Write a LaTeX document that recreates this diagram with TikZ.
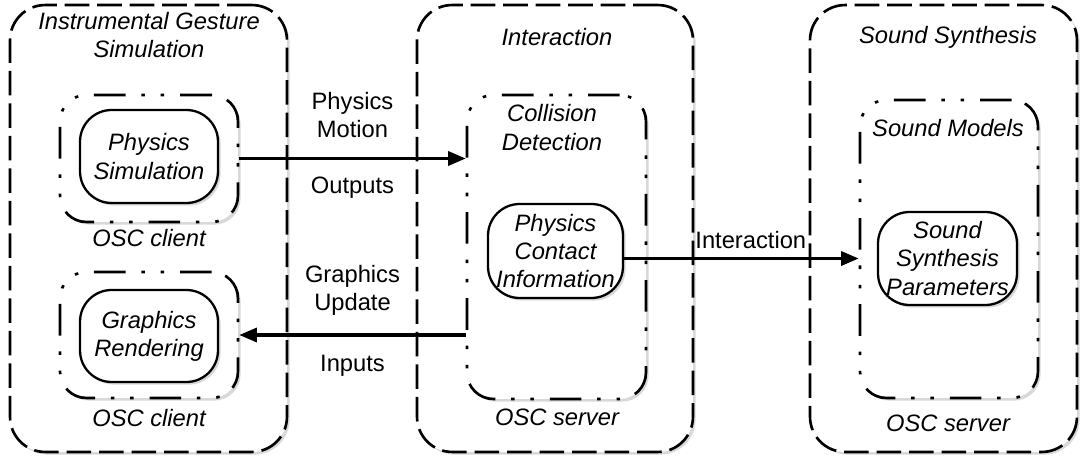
\documentclass[tikz,border=0pt]{standalone}
\usepackage{fontspec}
\setmainfont{Liberation Sans}
\usetikzlibrary{arrows.meta,shadows}
\tikzset{
  sys/.style={draw,line width=1.5pt,rounded corners=20pt,fill=white,
    dash pattern=on 14pt off 4.5pt,
    drop shadow={shadow xshift=1.5pt,shadow yshift=-1.5pt,opacity=0.3}},
  grp/.style={draw,line width=1.5pt,rounded corners=15pt,fill=white,
    dash pattern=on 18pt off 9pt on 2pt off 9pt on 2pt off 9pt,
    drop shadow={shadow xshift=1.5pt,shadow yshift=-1.5pt,opacity=0.3}},
  core/.style={draw,line width=1.3pt,rounded corners=18pt,fill=white,
    align=center,inner sep=0pt,
    drop shadow={shadow xshift=1.5pt,shadow yshift=-1.5pt,opacity=0.3}},
  txt/.style={align=center,inner sep=1pt},
  flow/.style={line width=1.8pt,-{Triangle[length=10pt,width=8pt]}},
  flowtxt/.style={txt,font=\fontsize{13.5}{16}\selectfont}
}
\begin{document}
\begin{tikzpicture}[x=0.02cm,y=-0.02cm,font=\fontsize{13.5}{16}\selectfont\itshape]
\useasboundingbox (0,0) rectangle (1080,456);
\node[sys,minimum width=5.54cm,minimum height=8.94cm] (gesture) at (148.5,228.5) {};
\node[sys,minimum width=5.52cm,minimum height=8.94cm] (interact) at (555,228.5) {};
\node[sys,minimum width=5.34cm,minimum height=8.94cm] (synth) at (943.5,228.5) {};
\node[grp,minimum width=3.56cm,minimum height=2.54cm] (physgrp) at (149,158.5) {};
\node[grp,minimum width=3.56cm,minimum height=2.52cm] (gfxgrp) at (149,335) {};
\node[grp,minimum width=3.58cm,minimum height=6.08cm] (collision) at (556.5,247) {};
\node[grp,minimum width=3.56cm,minimum height=5.96cm] (models) at (949,249) {};
\node[core,minimum width=2.76cm,minimum height=1.86cm] (physsim) at (149,156.5) {Physics\\Simulation};
\node[core,minimum width=2.76cm,minimum height=1.84cm] (render) at (149,336) {Graphics\\Rendering};
\node[core,minimum width=2.7cm,minimum height=1.88cm] (contact) at (555.5,251) {Physics\\Contact\\Information};
\node[core,minimum width=2.78cm,minimum height=1.86cm] (params) at (947.5,258.5) {Sound\\Synthesis\\Parameters};
\node[txt] (gesturetitle) at (149,35) {Instrumental Gesture\\Simulation};
\node[txt] (interacttitle) at (557,37) {Interaction};
\node[txt] (synthtitle) at (948,37) {Sound Synthesis};
\node[txt] (colltitle) at (552,127.5) {Collision\\Detection};
\node[txt] (modeltitle) at (948,128) {Sound Models};
\node[txt] (client1) at (149,238) {OSC client};
\node[txt] (client2) at (149,418) {OSC client};
\node[txt] (server1) at (557,417) {OSC server};
\node[txt] (server2) at (948,423) {OSC server};
\draw[flow] (physgrp.east) -- (physgrp.east -| collision.west)
  node[midway,above=10pt,flowtxt] (motion) {Physics\\Motion}
  node[midway,below=8.5pt,flowtxt] (outputs) {Outputs};
\draw[flow] (gfxgrp.east -| collision.west) -- (gfxgrp.east)
  node[midway,above=9pt,flowtxt] (update) {Graphics\\Update}
  node[midway,below=9.5pt,flowtxt] (inputs) {Inputs};
\draw[flow] (params.west -| contact.east) -- (params.west -| models.west)
  node[pos=0.54,above=3.5pt,flowtxt] (interlabel) {Interaction};
\end{tikzpicture}
\end{document}
